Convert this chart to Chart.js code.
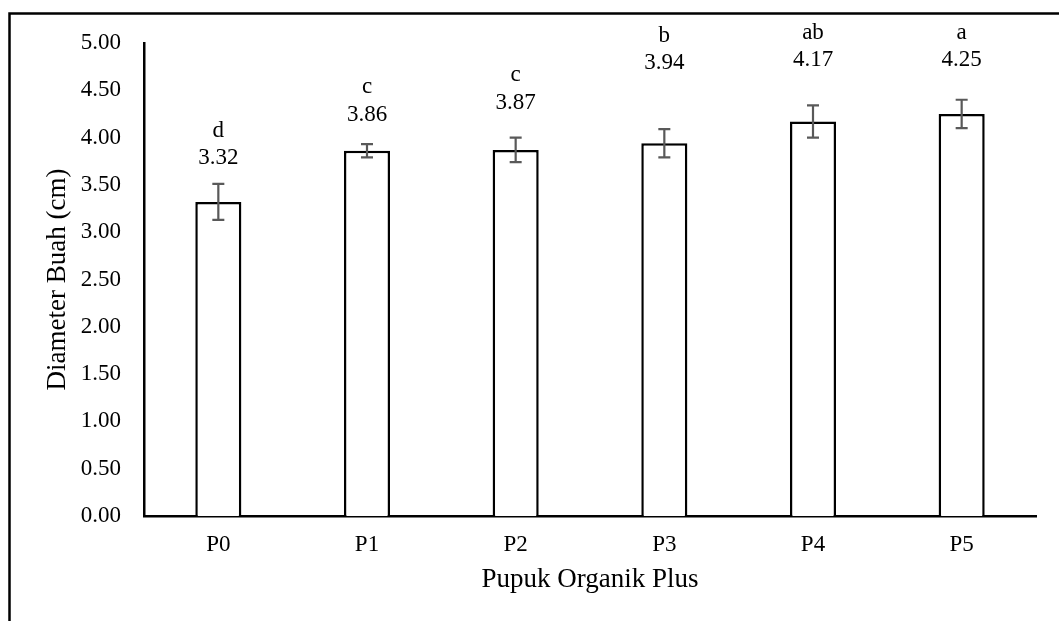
<!DOCTYPE html>
<html>
<head>
<meta charset="utf-8">
<script src="https://cdn.jsdelivr.net/npm/chart.js@4.4.1/dist/chart.umd.min.js"></script>
<style>
  html, body { margin: 0; padding: 0; background: #fff; }
  #wrap { width: 1059px; height: 621px; position: relative; }
</style>
</head>
<body>
<div id="wrap"><canvas id="c" width="1059" height="621"></canvas></div>
<script>
// ---- data ----
const categories = ["P0", "P1", "P2", "P3", "P4", "P5"];
const diameterValues = [3.32, 3.86, 3.87, 3.94, 4.17, 4.25];
const errorValues = [0.19, 0.07, 0.13, 0.15, 0.17, 0.15];
const significanceLetters = ["d", "c", "c", "b", "ab", "a"];
const yTicks = [0, 0.5, 1, 1.5, 2, 2.5, 3, 3.5, 4, 4.5, 5];
const xTitle = "Pupuk Organik Plus";
const yTitle = "Diameter Buah (cm)";

// annotation anchor (value units, for the numeric label line)
const labelAnchor = [3.78, 4.24, 4.37, 4.785, 4.817, 4.817];

const FONT = "'Liberation Serif', 'Times New Roman', serif";

const frame = {
  id: 'frame',
  beforeDraw(chart) {
    const ctx = chart.ctx;
    ctx.save();
    ctx.fillStyle = '#fff';
    ctx.fillRect(0, 0, chart.width, chart.height);
    ctx.strokeStyle = '#000';
    ctx.lineWidth = 2.5;
    ctx.beginPath();
    ctx.moveTo(9.5, chart.height + 2);
    ctx.lineTo(9.5, 13.5);
    ctx.lineTo(chart.width + 2, 13.5);
    ctx.stroke();
    ctx.restore();
  }
};

const errorBars = {
  id: 'errorBars',
  afterDatasetsDraw(chart) {
    const ctx = chart.ctx;
    const y = chart.scales.y;
    const meta = chart.getDatasetMeta(0);
    ctx.save();
    ctx.strokeStyle = '#595959';
    ctx.lineWidth = 2.2;
    meta.data.forEach((bar, i) => {
      const x = bar.x;
      const v = diameterValues[i];
      const e = errorValues[i];
      const yt = y.getPixelForValue(v + e);
      const yb = y.getPixelForValue(v - e);
      ctx.beginPath();
      ctx.moveTo(x, yt); ctx.lineTo(x, yb);
      ctx.moveTo(x - 6, yt); ctx.lineTo(x + 6, yt);
      ctx.moveTo(x - 6, yb); ctx.lineTo(x + 6, yb);
      ctx.stroke();
    });
    // labels
    ctx.fillStyle = '#000';
    ctx.font = '23px ' + FONT;
    ctx.textAlign = 'center';
    ctx.textBaseline = 'middle';
    meta.data.forEach((bar, i) => {
      const py = y.getPixelForValue(labelAnchor[i]);
      ctx.fillText(diameterValues[i].toFixed(2), bar.x, py);
      ctx.fillText(significanceLetters[i], bar.x, py - 27.7);
    });
    ctx.restore();
  }
};

new Chart(document.getElementById('c'), {
  type: 'bar',
  data: {
    labels: categories,
    datasets: [{
      data: diameterValues,
      backgroundColor: '#ffffff',
      borderColor: '#000000',
      borderWidth: 2.5,
      barPercentage: 0.31,
      categoryPercentage: 1.0
    }]
  },
  options: {
    responsive: false,
    animation: false,
    devicePixelRatio: 1,
    layout: { padding: { left: 0, top: 43, right: 23, bottom: 0 } },
    plugins: {
      legend: { display: false },
      tooltip: { enabled: false }
    },
    scales: {
      x: {
        grid: { display: false, drawTicks: false },
        border: { display: true, color: '#000', width: 2.5 },
        ticks: { color: '#000', font: { family: FONT, size: 23 }, padding: 15 },
        title: { display: true, text: xTitle, color: '#000', font: { family: FONT, size: 27 }, padding: { top: 0, bottom: 25 } },
        afterFit(scale) { scale.height = 105; }
      },
      y: {
        min: 0, max: 5,
        afterBuildTicks(scale) { scale.ticks = yTicks.map(v => ({ value: v })); },
        grid: { display: false, drawTicks: false },
        border: { display: true, color: '#000', width: 2.5 },
        ticks: { color: '#000', font: { family: FONT, size: 23 }, padding: 23, callback: v => Number(v).toFixed(2) },
        title: { display: true, text: yTitle, color: '#000', font: { family: FONT, size: 27 }, padding: { top: 42, bottom: 0 } },
        afterFit(scale) { scale.width = 144; }
      }
    }
  },
  plugins: [frame, errorBars]
});
</script>
</body>
</html>
